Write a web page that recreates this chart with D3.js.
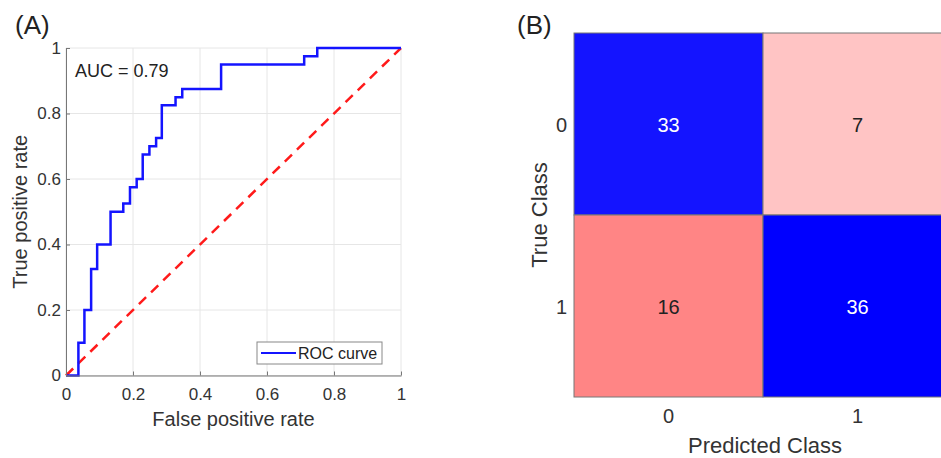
<!DOCTYPE html>
<html>
<head>
<meta charset="utf-8">
<script src="https://cdn.jsdelivr.net/npm/d3@7.9.0/dist/d3.min.js"></script>
<style>
  body { margin: 0; background: #fff; }
  svg { display: block; font-family: "Liberation Sans", Arial, sans-serif; }
</style>
</head>
<body>
<svg id="chart" width="941" height="458"></svg>
<script>
// ROC curve step points (false positive rate, true positive rate)
const fpr = [0, 0.037, 0.055, 0.075, 0.093, 0.133, 0.171, 0.191, 0.211, 0.229, 0.249, 0.269, 0.286, 0.327, 0.347, 0.463, 0.711, 0.75, 1];
const tpr = [0, 0.1, 0.2, 0.325, 0.4, 0.5, 0.525, 0.575, 0.6, 0.675, 0.7, 0.725, 0.825, 0.85, 0.875, 0.95, 0.975, 1, 1];
const aucText = 'AUC = 0.79';
const rocTicks = [0, 0.2, 0.4, 0.6, 0.8, 1];

// confusion matrix
const classes = ['0', '1'];
const counts = [[33, 7], [16, 36]]; // rows = true class, cols = predicted

const svg = d3.select('#chart');

// ---------- (A) ROC ----------
const x = d3.scaleLinear().domain([0, 1]).range([66, 401]);
const y = d3.scaleLinear().domain([0, 1]).range([375.5, 48]);

const gA = svg.append('g');

// grid
gA.selectAll('.gx').data(rocTicks).join('line')
  .attr('x1', d => x(d)).attr('x2', d => x(d))
  .attr('y1', y(0)).attr('y2', y(1))
  .attr('stroke', '#e6e6e6').attr('stroke-width', 1);
gA.selectAll('.gy').data(rocTicks).join('line')
  .attr('x1', x(0)).attr('x2', x(1))
  .attr('y1', d => y(d)).attr('y2', d => y(d))
  .attr('stroke', '#e6e6e6').attr('stroke-width', 1);

// diagonal chance line
gA.append('line')
  .attr('x1', x(0)).attr('y1', y(0))
  .attr('x2', x(1)).attr('y2', y(1))
  .attr('stroke', '#ff1a1a').attr('stroke-width', 2.5)
  .attr('stroke-dasharray', '10,7');

// ROC step curve
const rocPts = fpr.map((f, i) => [f, tpr[i]]);
const line = d3.line().x(d => x(d[0])).y(d => y(d[1])).curve(d3.curveStepAfter);
gA.append('path')
  .attr('d', line(rocPts))
  .attr('fill', 'none')
  .attr('stroke', '#1414ff')
  .attr('stroke-width', 2.5);

// axes (inward ticks like matlab)
const xAxis = d3.axisBottom(x).tickValues(rocTicks).tickFormat(d3.format('~g')).tickSizeInner(-4).tickSizeOuter(0).tickPadding(12);
const yAxis = d3.axisLeft(y).tickValues(rocTicks).tickFormat(d3.format('~g')).tickSizeInner(-4).tickSizeOuter(0).tickPadding(5);

const gx = gA.append('g').attr('transform', `translate(0,${y(0)})`).call(xAxis);
const gy = gA.append('g').attr('transform', `translate(${x(0)},0)`).call(yAxis);
[gx, gy].forEach(g => {
  g.select('.domain').attr('stroke', '#777');
  g.selectAll('.tick line').attr('stroke', '#777');
  g.selectAll('.tick text').attr('fill', '#333').style('font-size', '17px').style('font-family', '"Liberation Sans", Arial, sans-serif');
});

gA.append('text')
  .attr('x', (x(0) + x(1)) / 2).attr('y', 426)
  .attr('text-anchor', 'middle')
  .attr('fill', '#333').style('font-size', '20px')
  .text('False positive rate');

gA.append('text')
  .attr('transform', `translate(27,${(y(0) + y(1)) / 2}) rotate(-90)`)
  .attr('text-anchor', 'middle')
  .attr('fill', '#333').style('font-size', '20px')
  .text('True positive rate');

gA.append('text')
  .attr('x', 75).attr('y', 77)
  .attr('fill', '#222').style('font-size', '18px')
  .text(aucText);

// legend
const lg = gA.append('g').attr('transform', 'translate(257,342)');
lg.append('rect').attr('width', 125).attr('height', 22)
  .attr('fill', '#fff').attr('stroke', '#888').attr('stroke-width', 1);
lg.append('line').attr('x1', 4).attr('x2', 39).attr('y1', 11).attr('y2', 11)
  .attr('stroke', '#1414ff').attr('stroke-width', 2);
lg.append('text').attr('x', 41).attr('y', 17)
  .attr('fill', '#222').style('font-size', '16px')
  .text('ROC curve');

svg.append('text').attr('x', 15).attr('y', 34)
  .attr('fill', '#222').style('font-size', '26px').text('(A)');

// ---------- (B) confusion matrix ----------
const cx = d3.scaleBand().domain(classes).range([574, 952]);
const cy = d3.scaleBand().domain(classes).range([33, 397]);

const blue = d3.scaleLinear().domain([33, 36]).range(['#1414ff', '#0000ff']);
const red = d3.scaleLinear().domain([7, 16]).range(['#ffc4c4', '#ff8585']);

const cells = [];
classes.forEach((t, i) => classes.forEach((p, j) => {
  cells.push({ t, p, v: counts[i][j], diag: i === j });
}));

const gB = svg.append('g');
gB.selectAll('rect').data(cells).join('rect')
  .attr('x', d => cx(d.p)).attr('y', d => cy(d.t))
  .attr('width', cx.bandwidth()).attr('height', cy.bandwidth())
  .attr('fill', d => d.diag ? blue(d.v) : red(d.v))
  .attr('stroke', '#777').attr('stroke-width', 1);

gB.selectAll('.val').data(cells).join('text')
  .attr('x', d => cx(d.p) + cx.bandwidth() / 2)
  .attr('y', d => cy(d.t) + cy.bandwidth() / 2 + 8)
  .attr('text-anchor', 'middle')
  .attr('fill', d => d.diag ? '#fff' : '#222')
  .style('font-size', '20px')
  .text(d => d.v);

gB.selectAll('.rl').data(classes).join('text')
  .attr('x', 567).attr('y', d => cy(d) + cy.bandwidth() / 2 + 8)
  .attr('text-anchor', 'end')
  .attr('fill', '#333').style('font-size', '20px')
  .text(d => d);

gB.selectAll('.cl').data(classes).join('text')
  .attr('x', d => cx(d) + cx.bandwidth() / 2).attr('y', 423)
  .attr('text-anchor', 'middle')
  .attr('fill', '#333').style('font-size', '20px')
  .text(d => d);

gB.append('text')
  .attr('x', 765).attr('y', 453)
  .attr('text-anchor', 'middle')
  .attr('fill', '#333').style('font-size', '22px')
  .text('Predicted Class');

gB.append('text')
  .attr('transform', `translate(547,${(cy.range()[0] + cy.range()[1]) / 2}) rotate(-90)`)
  .attr('text-anchor', 'middle')
  .attr('fill', '#333').style('font-size', '22px')
  .text('True Class');

svg.append('text').attr('x', 517).attr('y', 34)
  .attr('fill', '#222').style('font-size', '26px').text('(B)');
</script>
</body>
</html>
